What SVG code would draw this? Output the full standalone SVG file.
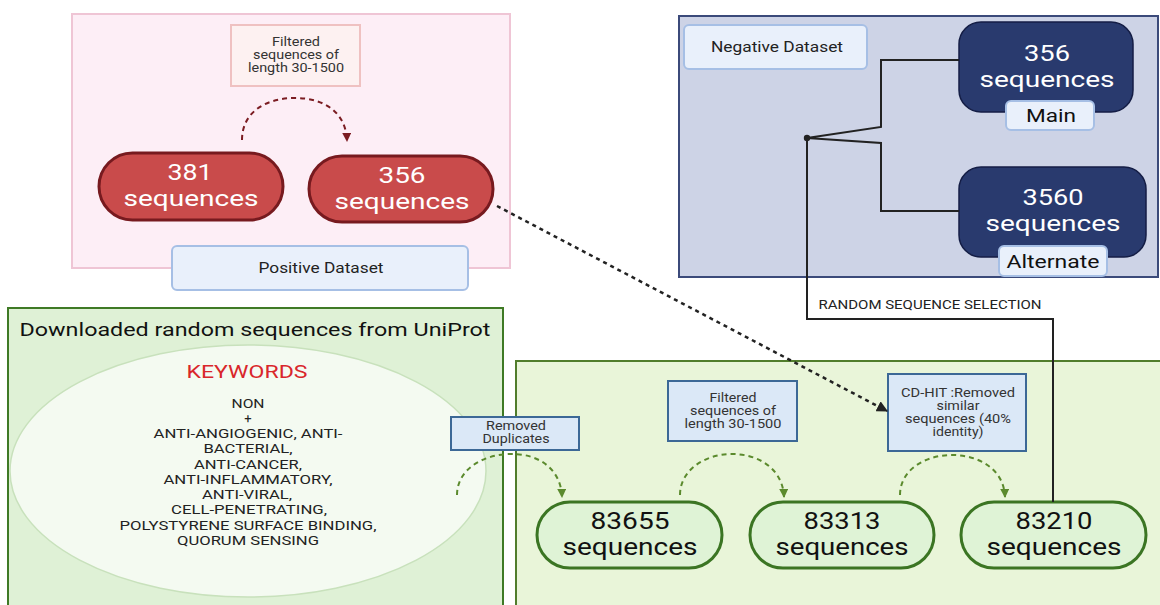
<svg xmlns="http://www.w3.org/2000/svg" width="1160" height="605" viewBox="0 0 1160 605">
<style>
text{font-family:Roboto,"Liberation Sans",sans-serif;text-anchor:middle}
.big{font-size:22px;fill:#fff}
.bigd{font-size:23px;fill:#111}
.nav{font-size:22px;fill:#fff}
.tag{font-size:18px;fill:#111}
.sm{font-size:12px;fill:#333}
.lbl{font-size:14px;fill:#222}
.kw{font-size:13px;fill:#222}
.pill-red{fill:#c94b4b;stroke:#771a1f;stroke-width:3}
.pill-green{fill:#dff3d6;stroke:#3b7523;stroke-width:3}
.navy{fill:#293a6e;stroke:#141d45;stroke-width:1.5}
.lab{fill:#e9f0fb;stroke:#a6bfe5;stroke-width:2}
.bluebox{fill:#dbe8f7;stroke:#3c6896;stroke-width:2}
.line{fill:none;stroke:#222;stroke-width:2}
</style>
<defs>
<marker id="arRed" viewBox="0 0 10 10" refX="9" refY="5" markerWidth="4.5" markerHeight="4.5" orient="auto" markerUnits="strokeWidth"><path d="M0,0 L10,5 L0,10 z" fill="#7b1c22"/></marker>
<marker id="arGreen" viewBox="0 0 10 10" refX="9" refY="5" markerWidth="4.5" markerHeight="4.5" orient="auto" markerUnits="strokeWidth"><path d="M0,0 L10,5 L0,10 z" fill="#5b8a2d"/></marker>
<marker id="arBlack" viewBox="0 0 10 10" refX="9" refY="5" markerWidth="4.5" markerHeight="4.5" orient="auto" markerUnits="strokeWidth"><path d="M0,0 L10,5 L0,10 z" fill="#222"/></marker>
</defs>

<rect width="1160" height="605" fill="#fff"/>

<g id="positive-panel">
<rect x="72" y="14" width="438" height="254" fill="#fdeef6" stroke="#efc5d5" stroke-width="2"/>
</g>
<g id="negative-panel">
<rect x="679" y="16" width="479" height="261" fill="#cdd3e6" stroke="#3b4a7a" stroke-width="2"/>
</g>
<g id="uniprot-panel">
<rect x="8" y="308" width="495" height="300" fill="#dff1d6" stroke="#3f7a25" stroke-width="2"/>
<text x="255" y="336" style="font-size:19px;fill:#111" textLength="471" lengthAdjust="spacingAndGlyphs">Downloaded random sequences from UniProt</text>
</g>
<g id="processing-panel">
<rect x="516" y="361" width="646" height="250" fill="#e9f5d9" stroke="#517d2c" stroke-width="2"/>
</g>

<g id="pos-filter-label">
<rect x="231" y="25" width="129" height="61" fill="#fdf1f1" stroke="#efc1c1" stroke-width="2"/>
<text class="sm" x="296" y="46" textLength="48" lengthAdjust="spacingAndGlyphs">Filtered</text>
<text class="sm" x="296" y="59" textLength="86" lengthAdjust="spacingAndGlyphs">sequences of</text>
<text class="sm" x="296" y="72" textLength="96" lengthAdjust="spacingAndGlyphs">length 30-1500</text>
</g>

<g id="pos-381">
<rect class="pill-red" x="99" y="153" width="184" height="67" rx="33.5"/>
<text class="big" x="190" y="180" textLength="45" lengthAdjust="spacingAndGlyphs">381</text>
<text class="big" x="191" y="206" textLength="135" lengthAdjust="spacingAndGlyphs">sequences</text>
</g>
<g id="pos-356">
<rect class="pill-red" x="309" y="156" width="184" height="66" rx="33"/>
<text class="big" x="402" y="183" textLength="47" lengthAdjust="spacingAndGlyphs">356</text>
<text class="big" x="402" y="209" textLength="135" lengthAdjust="spacingAndGlyphs">sequences</text>
</g>
<g id="positive-label">
<rect class="lab" x="172" y="246" width="296" height="44" rx="5"/>
<text class="lbl" x="321" y="273" textLength="125" lengthAdjust="spacingAndGlyphs">Positive Dataset</text>
</g>

<g id="negative-label">
<rect class="lab" x="684" y="25" width="183" height="44" rx="5"/>
<text class="lbl" x="777" y="52" textLength="132" lengthAdjust="spacingAndGlyphs">Negative Dataset</text>
</g>
<g id="neg-main">
<rect class="navy" x="959" y="22" width="174" height="90" rx="22"/>
<text class="nav" x="1047" y="61" textLength="46" lengthAdjust="spacingAndGlyphs">356</text>
<text class="nav" x="1047" y="87" textLength="135" lengthAdjust="spacingAndGlyphs">sequences</text>
<rect class="lab" x="1006" y="101" width="88" height="29" rx="5"/>
<text class="tag" x="1051" y="122" textLength="50" lengthAdjust="spacingAndGlyphs">Main</text>
</g>
<g id="neg-alt">
<rect class="navy" x="959" y="167" width="187" height="90" rx="22"/>
<text class="nav" x="1053" y="205" textLength="61" lengthAdjust="spacingAndGlyphs">3560</text>
<text class="nav" x="1053" y="231" textLength="135" lengthAdjust="spacingAndGlyphs">sequences</text>
<rect class="lab" x="999" y="246" width="108" height="30" rx="5"/>
<text class="tag" x="1053" y="268" textLength="93" lengthAdjust="spacingAndGlyphs">Alternate</text>
</g>

<g id="keywords">
<ellipse cx="248" cy="471" rx="238" ry="126" fill="#f4faf1" stroke="#c8e1bc" stroke-width="1.5"/>
<text x="247" y="378" style="font-size:18px;fill:#d9262b" textLength="121" lengthAdjust="spacingAndGlyphs">KEYWORDS</text>
<text class="kw" x="248" y="408" textLength="33" lengthAdjust="spacingAndGlyphs">NON</text>
<text class="kw" x="248" y="423">+</text>
<text class="kw" x="248" y="438" textLength="189" lengthAdjust="spacingAndGlyphs">ANTI-ANGIOGENIC, ANTI-</text>
<text class="kw" x="248" y="453" textLength="89" lengthAdjust="spacingAndGlyphs">BACTERIAL,</text>
<text class="kw" x="248" y="469" textLength="108" lengthAdjust="spacingAndGlyphs">ANTI-CANCER,</text>
<text class="kw" x="248" y="484" textLength="169" lengthAdjust="spacingAndGlyphs">ANTI-INFLAMMATORY,</text>
<text class="kw" x="247" y="499" textLength="90" lengthAdjust="spacingAndGlyphs">ANTI-VIRAL,</text>
<text class="kw" x="249" y="514" textLength="156" lengthAdjust="spacingAndGlyphs">CELL-PENETRATING,</text>
<text class="kw" x="248" y="530" textLength="257" lengthAdjust="spacingAndGlyphs">POLYSTYRENE SURFACE BINDING,</text>
<text class="kw" x="248" y="545" textLength="142" lengthAdjust="spacingAndGlyphs">QUORUM SENSING</text>
</g>

<g id="filter-label">
<rect class="bluebox" x="668" y="381" width="129" height="60"/>
<text class="sm" x="733" y="402" textLength="47" lengthAdjust="spacingAndGlyphs">Filtered</text>
<text class="sm" x="733" y="415" textLength="86" lengthAdjust="spacingAndGlyphs">sequences of</text>
<text class="sm" x="733" y="428" textLength="97" lengthAdjust="spacingAndGlyphs">length 30-1500</text>
</g>
<g id="cdhit-label">
<rect class="bluebox" x="888" y="374" width="138" height="77"/>
<text class="sm" x="958" y="397" textLength="114" lengthAdjust="spacingAndGlyphs">CD-HIT :Removed</text>
<text class="sm" x="958" y="410" textLength="43" lengthAdjust="spacingAndGlyphs">similar</text>
<text class="sm" x="958" y="423" textLength="106" lengthAdjust="spacingAndGlyphs">sequences (40%</text>
<text class="sm" x="958" y="436" textLength="51" lengthAdjust="spacingAndGlyphs">identity)</text>
</g>

<g id="seq-83655">
<rect class="pill-green" x="537" y="502" width="185" height="66" rx="33"/>
<text class="bigd" x="630" y="529" textLength="79" lengthAdjust="spacingAndGlyphs">83655</text>
<text class="bigd" x="630" y="555" textLength="135" lengthAdjust="spacingAndGlyphs">sequences</text>
</g>
<g id="seq-83313">
<rect class="pill-green" x="750" y="502" width="184" height="66" rx="33"/>
<text class="bigd" x="842" y="529" textLength="77" lengthAdjust="spacingAndGlyphs">83313</text>
<text class="bigd" x="842" y="555" textLength="133" lengthAdjust="spacingAndGlyphs">sequences</text>
</g>
<g id="seq-83210">
<rect class="pill-green" x="961" y="502" width="185" height="66" rx="33"/>
<text class="bigd" x="1054" y="529" textLength="77" lengthAdjust="spacingAndGlyphs">83210</text>
<text class="bigd" x="1054" y="555" textLength="135" lengthAdjust="spacingAndGlyphs">sequences</text>
</g>

<g id="connectors">
<path d="M242,140 C242,112 266,98 295,98 C324,98 346,112 347,141" fill="none" stroke="#7b1c22" stroke-width="2" stroke-dasharray="5 4" marker-end="url(#arRed)"/>
<path d="M457,495 C457,470 482,454 512,454 C540,454 561,470 562,497" fill="none" stroke="#5b8a2d" stroke-width="2" stroke-dasharray="5 4" marker-end="url(#arGreen)"/>
<path d="M680,495 C680,470 705,454 732,454 C760,454 783,470 784,497" fill="none" stroke="#5b8a2d" stroke-width="2" stroke-dasharray="5 4" marker-end="url(#arGreen)"/>
<path d="M900,495 C900,470 925,455 952,455 C980,455 1004,470 1005,497" fill="none" stroke="#5b8a2d" stroke-width="2" stroke-dasharray="5 4" marker-end="url(#arGreen)"/>
<path d="M497,206 L887,411" fill="none" stroke="#222" stroke-width="2.5" stroke-dasharray="4 4" marker-end="url(#arBlack)"/>
<polyline class="line" points="959,60 881,60 881,127 807,138 881,143 881,211 959,211"/>
<polyline class="line" points="807,138 807,319 1053,319 1053,502"/>
<circle cx="807" cy="138" r="3.2" fill="#222"/>
<text x="930" y="309" style="font-size:12px;fill:#222" textLength="223" lengthAdjust="spacingAndGlyphs">RANDOM SEQUENCE SELECTION</text>
</g>

<g id="dup-label">
<rect class="bluebox" x="451" y="417" width="128" height="33"/>
<text class="sm" x="516" y="430" textLength="60" lengthAdjust="spacingAndGlyphs">Removed</text>
<text class="sm" x="516" y="443" textLength="67" lengthAdjust="spacingAndGlyphs">Duplicates</text>
</g>
</svg>
